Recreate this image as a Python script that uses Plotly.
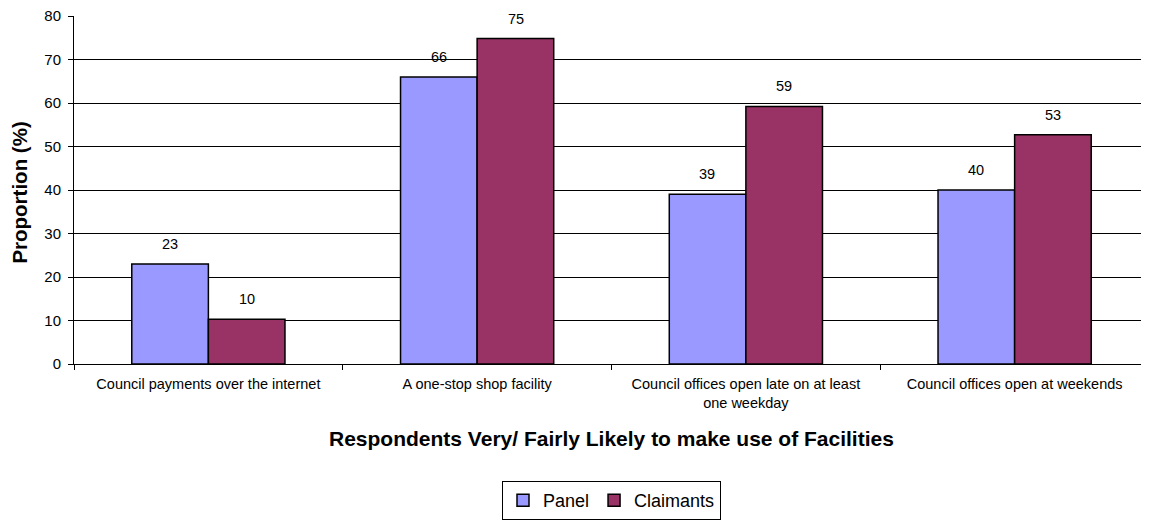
import plotly.graph_objects as go

categories = ["Council payments over the internet", "A one-stop shop facility",
              "Council offices open late on at least<br>one weekday", "Council offices open at weekends"]
panel = [23, 66, 39, 40]
claimants = [10.3, 74.8, 59.2, 52.7]
series_names = ["Panel", "Claimants"]
colors = ["#9999FF", "#993366"]
y_ticks = [0, 10, 20, 30, 40, 50, 60, 70, 80]

fig = go.Figure()
for name, vals, col in zip(series_names, [panel, claimants], colors):
    fig.add_trace(go.Bar(x=categories, y=vals, name=name,
                         marker=dict(color=col, line=dict(color="black", width=1.5))))

# value labels
for i, (vals, shift) in enumerate([(panel, -38.5), (claimants, 38.5)]):
    for c, v in zip(categories, vals):
        fig.add_annotation(x=c, y=v, xref="x", yref="y", text=f"{v:.0f}", showarrow=False,
                           xshift=shift, yshift=20, xanchor="center", yanchor="middle",
                           font=dict(family="Arial", size=14.5, color="black"))

fig.add_annotation(x=0.5, y=-0.215, xref="paper", yref="paper", xanchor="center", yanchor="middle",
                   text="<b>Respondents Very/ Fairly Likely to make use of Facilities</b>",
                   showarrow=False, font=dict(family="Arial", size=21, color="black"))
fig.add_annotation(x=-0.051, y=0.493, xref="paper", yref="paper", textangle=-90,
                   xanchor="center", yanchor="middle",
                   text="<b>Proportion (%)</b>", showarrow=False,
                   font=dict(family="Arial", size=20.5, color="black"))

fig.update_layout(
    width=1141, height=512,
    margin=dict(l=66, r=0, t=8, b=155),
    paper_bgcolor="white", plot_bgcolor="white",
    barmode="group", bargap=0.43, bargroupgap=0,
    font=dict(family="Arial", size=15, color="black"),
    showlegend=True,
    legend=dict(orientation="h", x=0.5, xanchor="center", y=-0.338, yanchor="top",
                bordercolor="black", borderwidth=1, font=dict(family="Arial", size=18, color="black"),
                itemwidth=30, tracegroupgap=0),
    xaxis=dict(type="category", showline=True, linecolor="black", linewidth=1,
               ticks="outside", tickson="boundaries", ticklen=5, tickcolor="black",
               ticklabelstandoff=7,
               tickfont=dict(family="Arial", size=14.5, color="black"), showgrid=False),
    yaxis=dict(range=[0, 80], tickvals=y_ticks, showline=True, linecolor="black", linewidth=1,
               ticks="outside", ticklen=5, tickcolor="black", ticklabelstandoff=4,
               ticklabeloverflow="allow",
               showgrid=True, gridcolor="black", gridwidth=1,
               tickfont=dict(family="Arial", size=15, color="black"), zeroline=False),
)

fig.write_html("out.html")
